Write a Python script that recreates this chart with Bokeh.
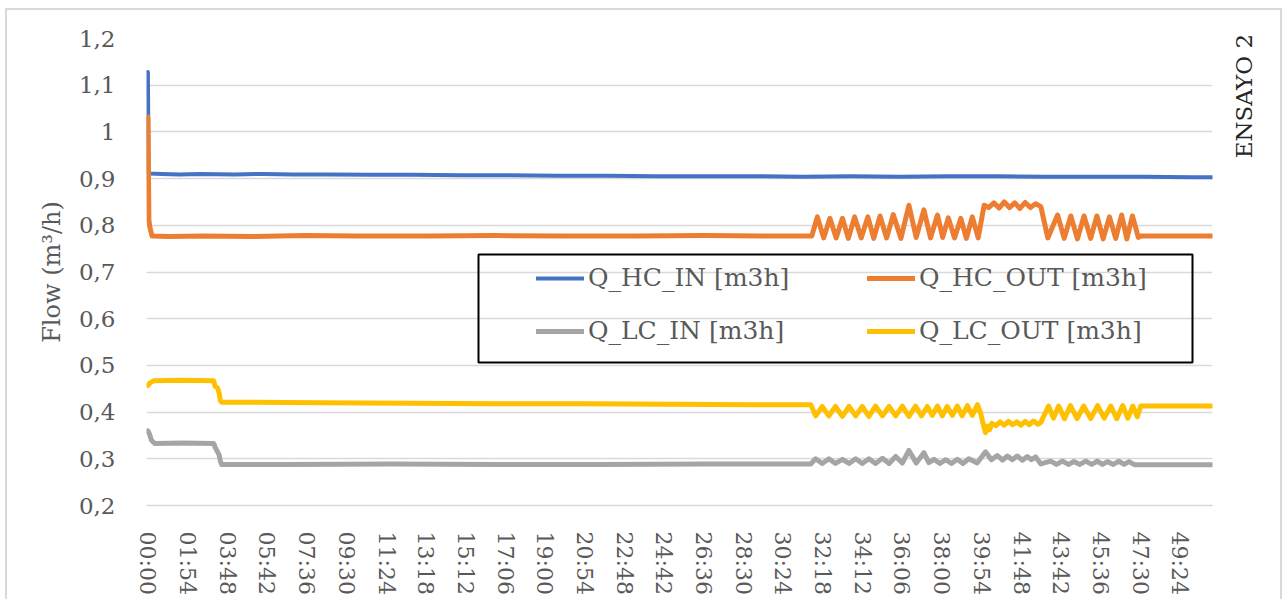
import math

from bokeh.embed import file_html
from bokeh.models import (BoxAnnotation, FixedTicker, InlineStyleSheet, Legend,
                          LegendItem, LinearAxis, Range1d)
from bokeh.plotting import figure
from bokeh.resources import INLINE

# ---------------------------------------------------------------- data
# elapsed time in seconds, flow in m3/h

hc_in_t = [0, 2, 40, 90, 150, 250, 330, 420, 520, 640, 760, 900, 1040, 1180,
           1320, 1460, 1600, 1740, 1880, 2020, 2160, 2300, 2440, 2580, 2720,
           2860, 3000, 3058]
hc_in_v = [1.128, 0.911, 0.910, 0.909, 0.910, 0.909, 0.910, 0.909, 0.909,
           0.908, 0.908, 0.907, 0.907, 0.906, 0.906, 0.905, 0.905, 0.905,
           0.904, 0.905, 0.904, 0.905, 0.905, 0.904, 0.904, 0.904, 0.903, 0.903]

hc_out_t = [0, 3, 6, 12, 60, 160, 300, 450, 600, 800, 1000, 1200, 1400, 1600,
            1800, 1907,
            1923, 1941, 1959, 1977, 1995, 2012, 2030, 2049, 2068, 2085, 2103,
            2122, 2141, 2163, 2186, 2207, 2229, 2248, 2268, 2283, 2299, 2317,
            2335, 2351, 2368, 2385,
            2402, 2415, 2430, 2445, 2460, 2475, 2490, 2505, 2520, 2535, 2550,
            2565,
            2585, 2613, 2632, 2651, 2670, 2689, 2708, 2726, 2744, 2762, 2780,
            2797, 2812, 2828, 2845, 2852, 2950, 3058]
hc_out_v = [1.032, 0.810, 0.795, 0.777, 0.776, 0.777, 0.776, 0.778, 0.777,
            0.777, 0.778, 0.777, 0.777, 0.778, 0.777, 0.777,
            0.818, 0.773, 0.815, 0.773, 0.815, 0.772, 0.818, 0.773, 0.818,
            0.772, 0.820, 0.773, 0.823, 0.772, 0.843, 0.774, 0.833, 0.773,
            0.822, 0.774, 0.816, 0.773, 0.815, 0.772, 0.818, 0.773,
            0.843, 0.838, 0.848, 0.837, 0.850, 0.838, 0.848, 0.836, 0.849,
            0.838, 0.846, 0.840,
            0.773, 0.822, 0.772, 0.820, 0.771, 0.820, 0.772, 0.820, 0.771,
            0.818, 0.772, 0.822, 0.771, 0.820, 0.774, 0.777, 0.777, 0.777]

lc_in_t = [0, 5, 10, 19, 100, 189, 193, 200, 205, 208, 212, 400, 700, 1000,
           1300, 1600, 1904,
           1918, 1937, 1956, 1975, 1995, 2014, 2033, 2052, 2071, 2090, 2110,
           2129, 2148, 2167, 2186, 2207, 2229, 2243, 2258, 2275, 2292, 2308,
           2325, 2341, 2358, 2382,
           2406, 2423, 2440, 2455, 2469, 2483, 2497, 2512, 2526, 2538, 2550,
           2565,
           2593, 2610, 2627, 2644, 2660, 2677, 2694, 2711, 2727, 2742, 2756,
           2773, 2789, 2804, 2818, 2835, 2950, 3058]
lc_in_v = [0.360, 0.352, 0.340, 0.333, 0.334, 0.333, 0.325, 0.315, 0.308,
           0.295, 0.288, 0.288, 0.289, 0.288, 0.288, 0.289, 0.289,
           0.300, 0.290, 0.300, 0.290, 0.299, 0.290, 0.300, 0.290, 0.300,
           0.290, 0.301, 0.290, 0.305, 0.291, 0.318, 0.291, 0.313, 0.292,
           0.299, 0.290, 0.298, 0.290, 0.299, 0.290, 0.300, 0.291,
           0.315, 0.298, 0.307, 0.297, 0.306, 0.298, 0.306, 0.297, 0.305,
           0.298, 0.304, 0.289,
           0.295, 0.288, 0.295, 0.288, 0.294, 0.288, 0.295, 0.288, 0.295,
           0.288, 0.294, 0.288, 0.295, 0.288, 0.294, 0.287, 0.287, 0.287]

lc_out_t = [0, 7, 16, 100, 189, 193, 200, 205, 208, 212, 300, 500, 750, 1000,
            1250, 1500, 1750, 1904,
            1918, 1937, 1956, 1975, 1995, 2014, 2033, 2052, 2071, 2090, 2110,
            2129, 2148, 2167, 2186, 2205, 2222, 2239, 2253, 2268, 2282, 2296,
            2311, 2325, 2339, 2354, 2368, 2383,
            2392, 2400, 2406, 2412, 2418, 2424, 2436, 2448, 2460, 2472, 2484,
            2496, 2508, 2520, 2532, 2544, 2556, 2565,
            2587, 2601, 2616, 2633, 2650, 2669, 2688, 2708, 2728, 2747, 2766,
            2783, 2800, 2815, 2829, 2842, 2852, 2950, 3058]
lc_out_v = [0.457, 0.463, 0.467, 0.468, 0.467, 0.455, 0.452, 0.440, 0.425,
            0.421, 0.421, 0.420, 0.419, 0.418, 0.418, 0.417, 0.416, 0.416,
            0.392, 0.412, 0.392, 0.412, 0.391, 0.412, 0.392, 0.412, 0.391,
            0.413, 0.392, 0.412, 0.392, 0.413, 0.391, 0.413, 0.392, 0.412,
            0.393, 0.413, 0.392, 0.412, 0.393, 0.413, 0.392, 0.414, 0.393,
            0.416,
            0.398, 0.372, 0.356, 0.370, 0.362, 0.376, 0.371, 0.379, 0.372,
            0.380, 0.373, 0.379, 0.372, 0.380, 0.373, 0.381, 0.374, 0.378,
            0.413, 0.387, 0.413, 0.386, 0.414, 0.386, 0.413, 0.386, 0.414,
            0.387, 0.413, 0.386, 0.414, 0.387, 0.413, 0.390, 0.413, 0.413,
            0.413]

series_names = ["Q_HC_IN [m3h]", "Q_HC_OUT [m3h]", "Q_LC_IN [m3h]",
                "Q_LC_OUT [m3h]"]
series_colors = ["#4472C4", "#ED7D31", "#A5A5A5", "#FFC000"]

x_tick_labels = ["00:00", "01:54", "03:48", "05:42", "07:36", "09:30",
                 "11:24", "13:18", "15:12", "17:06", "19:00", "20:54",
                 "22:48", "24:42", "26:36", "28:30", "30:24", "32:18",
                 "34:12", "36:06", "38:00", "39:54", "41:48", "43:42",
                 "45:36", "47:30", "49:24"]
y_tick_values = [0.2, 0.3, 0.4, 0.5, 0.6, 0.7, 0.8, 0.9, 1.0, 1.1, 1.2]
y_tick_labels = ["0,2", "0,3", "0,4", "0,5", "0,6", "0,7", "0,8", "0,9", "1",
                 "1,1", "1,2"]
test_name = "ENSAYO 2"

# ---------------------------------------------------------------- styling
SERIF = "DejaVu Serif"
TEXT = "#595959"
GRID = "#d9d9d9"


def to_seconds(label):
    mm, ss = label.split(":")
    return int(mm) * 60 + int(ss)


x_ticks = [to_seconds(s) for s in x_tick_labels]

p = figure(width=1273, height=589,
           x_range=Range1d(-4, 3058), y_range=Range1d(0.2, 1.2),
           output_backend="svg", toolbar_location=None,
           min_border_left=139, min_border_right=68,
           min_border_top=28, min_border_bottom=94)
p.margin = (10, 3, 0, 7)
# light grey chart-area border drawn around the whole figure
p.stylesheets = [InlineStyleSheet(css=":host { outline: 2px solid #d9d9d9; }")]
p.outline_line_color = None
p.background_fill_color = "white"
p.border_fill_color = "white"

renderers = []
for t, v, c, w in [(hc_in_t, hc_in_v, series_colors[0], 4),
                   (hc_out_t, hc_out_v, series_colors[1], 5),
                   (lc_in_t, lc_in_v, series_colors[2], 5),
                   (lc_out_t, lc_out_v, series_colors[3], 5)]:
    r = p.line(t, v, line_color=c, line_width=w, line_join="round",
               line_cap="round")
    renderers.append(r)

# x axis: elapsed mm:ss, labels turned upright
p.xaxis.ticker = FixedTicker(ticks=x_ticks)
p.xaxis.major_label_overrides = dict(zip(x_ticks, x_tick_labels))
p.xaxis.major_label_orientation = "vertical"
p.xaxis.major_label_standoff = 20
p.xaxis.major_tick_line_color = None
p.xaxis.minor_tick_line_color = None
p.xaxis.axis_line_color = GRID
p.xaxis.axis_line_width = 1.5
p.xaxis.major_label_text_font = SERIF
p.xaxis.major_label_text_font_size = "22px"
p.xaxis.major_label_text_color = TEXT

# y axis with decimal commas
p.yaxis.ticker = FixedTicker(ticks=y_tick_values)
p.yaxis.major_label_overrides = dict(zip(y_tick_values, y_tick_labels))
p.yaxis.axis_line_color = None
p.yaxis.major_tick_line_color = None
p.yaxis.minor_tick_line_color = None
p.yaxis.major_label_standoff = 25
p.yaxis.major_label_text_font = SERIF
p.yaxis.major_label_text_font_size = "23px"
p.yaxis.major_label_text_color = TEXT
p.yaxis.axis_label = "Flow (m³/h)"
p.yaxis.axis_label_standoff = 10
p.yaxis.axis_label_text_font = SERIF
p.yaxis.axis_label_text_font_size = "24px"
p.yaxis.axis_label_text_font_style = "normal"
p.yaxis.axis_label_text_color = TEXT

p.xgrid.visible = False
p.ygrid.grid_line_color = GRID
p.ygrid.grid_line_width = 1.5

# test name written upright along the right-hand side
name_pos = 1.044
side = LinearAxis(ticker=FixedTicker(ticks=[name_pos]),
                  major_label_overrides={name_pos: test_name},
                  major_label_orientation=math.pi / 2,
                  axis_line_color=None, major_tick_line_color=None,
                  minor_tick_line_color=None, major_label_standoff=26,
                  major_label_text_font=SERIF,
                  major_label_text_font_size="23px",
                  major_label_text_color="#262626")
p.add_layout(side, "right")

# legend frame and two-column legend
p.add_layout(BoxAnnotation(left=332, right=1046, top=251, bottom=143,
                           left_units="screen", right_units="screen",
                           top_units="screen", bottom_units="screen",
                           fill_alpha=0, line_color="black", line_alpha=1,
                           line_width=2))

legend = Legend(
    items=[LegendItem(label=n, renderers=[r])
           for n, r in zip(series_names, renderers)],
    orientation="horizontal", ncols=2, location=(390, 160),
    glyph_width=48, glyph_height=26, label_height=26, label_width=255,
    label_standoff=4, spacing=24, padding=0, margin=0,
    border_line_alpha=0, background_fill_alpha=0,
    label_text_font=SERIF, label_text_font_size="25px",
    label_text_color=TEXT)
p.add_layout(legend)

open("out.html", "w").write(file_html(p, INLINE))
